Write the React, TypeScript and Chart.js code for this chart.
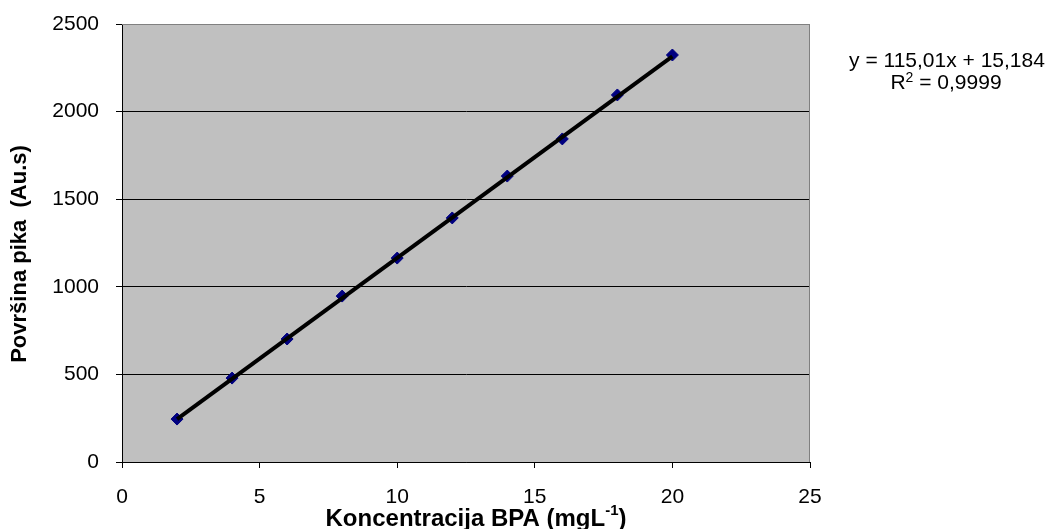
import React, { useEffect, useRef } from "react";
import { Chart, registerables } from "chart.js";

Chart.register(...registerables);

const concentration = [2, 4, 6, 8, 10, 12, 14, 16, 18, 20];
const peakArea = [245, 479, 702, 947, 1164, 1393, 1632, 1844, 2095, 2323];
const trendX = [2, 20];
const trendY = [245.2, 2315.4];
const equationText = "y = 115,01x + 15,184";
const r2Base = "R";
const r2Sup = "2";
const r2Rest = " = 0,9999";
const xTitleMain = "Koncentracija BPA (mgL";
const xTitleSup = "-1";
const xTitleEnd = ")";
const yTitle = "Površina pika  (Au.s)";

const FONT = "'Liberation Sans', Arial, sans-serif";

const decor = {
  id: "decor",
  beforeDraw(chart: any) {
    const { ctx, chartArea: a } = chart;
    ctx.save();
    ctx.fillStyle = "#C0C0C0";
    ctx.fillRect(a.left, a.top, a.right - a.left, a.bottom - a.top);
    ctx.restore();
  },
  afterDatasetsDraw(chart: any) {
    const { ctx, chartArea: a } = chart;
    ctx.save();
    ctx.strokeStyle = "#808080";
    ctx.lineWidth = 1;
    ctx.beginPath();
    ctx.moveTo(a.left, a.top + 0.5);
    ctx.lineTo(a.right - 0.5, a.top + 0.5);
    ctx.lineTo(a.right - 0.5, a.bottom);
    ctx.stroke();
    ctx.restore();
  },
  afterDraw(chart: any) {
    const { ctx } = chart;
    ctx.save();
    ctx.fillStyle = "#000";
    ctx.textBaseline = "middle";
    // equation
    ctx.font = `21px ${FONT}`;
    ctx.textAlign = "center";
    ctx.fillText(equationText, 947, 61);
    const wR = ctx.measureText(r2Base).width;
    ctx.font = `14px ${FONT}`;
    const w2 = ctx.measureText(r2Sup).width;
    ctx.font = `21px ${FONT}`;
    const wRest = ctx.measureText(r2Rest).width;
    let x = 946 - (wR + w2 + wRest) / 2;
    ctx.textAlign = "left";
    ctx.fillText(r2Base, x, 83);
    x += wR;
    ctx.font = `14px ${FONT}`;
    ctx.fillText(r2Sup, x, 78);
    x += w2;
    ctx.font = `21px ${FONT}`;
    ctx.fillText(r2Rest, x, 83);

    // x title
    ctx.font = `bold 24px ${FONT}`;
    const wm = ctx.measureText(xTitleMain).width;
    ctx.font = `bold 15px ${FONT}`;
    const ws = ctx.measureText(xTitleSup).width;
    ctx.font = `bold 24px ${FONT}`;
    const we = ctx.measureText(xTitleEnd).width;
    let tx = 476 - (wm + ws + we) / 2;
    const ty = 519;
    ctx.fillText(xTitleMain, tx, ty);
    tx += wm;
    ctx.font = `bold 15px ${FONT}`;
    ctx.fillText(xTitleSup, tx, ty - 8);
    tx += ws;
    ctx.font = `bold 24px ${FONT}`;
    ctx.fillText(xTitleEnd, tx, ty);

    // y title
    ctx.translate(20, 254);
    ctx.rotate(-Math.PI / 2);
    ctx.textAlign = "center";
    ctx.font = `bold 22px ${FONT}`;
    ctx.fillText(yTitle, 0, 0);
    ctx.restore();
  },
};

export default function App() {
  const ref = useRef<HTMLCanvasElement>(null);
  useEffect(() => {
    if (!ref.current) return;
    const chart = new Chart(ref.current, {
      type: "scatter",
      data: {
        datasets: [
          {
            label: "trend",
            data: trendX.map((x, i) => ({ x, y: trendY[i] })),
            showLine: true,
            borderColor: "#000",
            borderWidth: 4,
            pointRadius: 0,
            order: 1,
          },
          {
            label: "BPA",
            data: concentration.map((x, i) => ({ x, y: peakArea[i] })),
            pointStyle: "rectRot",
            pointRadius: 6,
            backgroundColor: "#000080",
            borderColor: "#000080",
            borderWidth: 1,
            showLine: false,
            order: 2,
          },
        ],
      },
      options: {
        animation: false,
        responsive: false,
        maintainAspectRatio: false,
        layout: { padding: { top: 24, right: 241, left: 0, bottom: 0 } },
        plugins: { legend: { display: false }, tooltip: { enabled: false } },
        scales: {
          x: {
            type: "linear",
            min: 0,
            max: 25,
            afterFit: (s: any) => {
              s.height = 67;
              s.paddingLeft = 0;
              s.paddingRight = 0;
            },
            ticks: {
              stepSize: 5,
              color: "#000",
              font: { family: FONT, size: 21 },
              padding: 17,
              callback: (v: any) => String(v),
            },
            grid: {
              drawOnChartArea: false,
              drawTicks: true,
              tickLength: 6,
              color: "#000",
            },
            border: { color: "#000", width: 1 },
          },
          y: {
            type: "linear",
            min: 0,
            max: 2500,
            afterFit: (s: any) => {
              s.width = 122;
              s.paddingTop = 0;
              s.paddingBottom = 0;
            },
            ticks: {
              stepSize: 500,
              color: "#000",
              font: { family: FONT, size: 21 },
              padding: 17,
              callback: (v: any) => String(v),
            },
            grid: {
              color: (c: any) => (c.tick && c.tick.value === 2500 ? "#808080" : "#000"),
              tickColor: "#000",
              lineWidth: 1,
              drawTicks: true,
              tickLength: 6,
            },
            border: { color: "#000", width: 1 },
          },
        },
      },
      plugins: [decor],
    });
    return () => chart.destroy();
  }, []);
  return (
    <div style={{ position: "fixed", left: 0, top: 0, width: 1051, height: 529, background: "#fff" }}>
      <canvas ref={ref} width={1051} height={529} style={{ width: 1051, height: 529 }} />
    </div>
  );
}
